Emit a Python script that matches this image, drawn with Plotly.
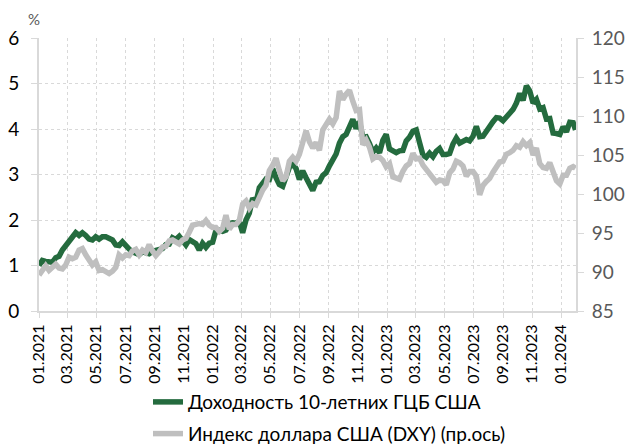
import pandas as pd
import plotly.graph_objects as go

# weekly dates (Fridays) + last observation
dates = list(pd.date_range("2021-01-01", "2024-01-26", freq="7D").strftime("%Y-%m-%d")) + ["2024-01-31"]

yield_2021 = [1.00, 1.11, 1.09, 1.09, 1.07,
              1.17, 1.20, 1.34, 1.44,
              1.57, 1.63, 1.72, 1.66,
              1.72, 1.66, 1.58, 1.56, 1.63,
              1.58, 1.63, 1.63, 1.59,
              1.56, 1.45, 1.44, 1.52,
              1.43, 1.36, 1.30, 1.28, 1.24,
              1.30, 1.28, 1.26, 1.31,
              1.33, 1.34, 1.37, 1.46,
              1.47, 1.61, 1.57, 1.64, 1.56,
              1.45, 1.57, 1.54, 1.48,
              1.34, 1.49, 1.40, 1.49, 1.51]
yield_2022 = [1.77, 1.78, 1.75, 1.78,
              1.92, 1.94, 1.93, 1.97,
              1.72, 2.00, 2.15, 2.48,
              2.38, 2.71, 2.83, 2.90, 2.89,
              3.13, 2.93, 2.78, 2.74,
              2.94, 3.16, 3.23, 3.13,
              2.89, 3.08, 2.93, 2.77, 2.65,
              2.83, 2.84, 2.98, 3.04,
              3.19, 3.32, 3.45, 3.69, 3.83,
              3.88, 4.02, 4.21, 4.01,
              4.16, 3.82, 3.83, 3.68,
              3.49, 3.58, 3.48, 3.75, 3.88]
yield_2023 = [3.56, 3.51, 3.48, 3.52,
              3.53, 3.74, 3.82, 3.95,
              3.98, 3.70, 3.43, 3.38, 3.47,
              3.39, 3.51, 3.57, 3.44,
              3.44, 3.46, 3.67, 3.80,
              3.69, 3.74, 3.77, 3.74, 3.84,
              4.06, 3.83, 3.84, 3.96,
              4.05, 4.16, 4.25, 4.24,
              4.18, 4.26, 4.33, 4.43, 4.57,
              4.78, 4.63, 4.95, 4.84,
              4.57, 4.65, 4.44, 4.47,
              4.22, 4.23, 3.91, 3.90, 3.88]
yield_2024 = [4.05, 3.94, 4.15, 4.14, 3.98]
us10y = yield_2021 + yield_2022 + yield_2023 + yield_2024

dxy_2021 = [89.6, 90.1, 90.8, 90.2, 90.6,
            91.0, 90.5, 90.4, 90.9,
            91.9, 91.7, 91.9, 92.8,
            93.0, 92.2, 91.6, 90.9, 91.3,
            90.2, 90.3, 90.0, 89.8,
            90.1, 90.6, 92.2, 91.8,
            92.2, 92.1, 92.7, 92.9, 92.2,
            92.8, 92.5, 93.5, 92.7,
            92.1, 92.6, 93.2, 93.3,
            94.0, 94.1, 93.9, 93.6, 94.1,
            94.3, 95.1, 96.0, 96.1,
            96.2, 96.1, 96.6, 96.0, 95.7]
dxy_2022 = [95.7, 95.2, 95.6, 97.3,
            95.5, 96.1, 96.1, 96.6,
            98.7, 99.1, 98.2, 98.8,
            98.6, 99.8, 100.5, 101.1, 103.0,
            103.7, 104.6, 103.0, 101.7,
            102.2, 104.2, 104.7, 104.2,
            105.1, 107.0, 108.1, 106.7, 105.9,
            106.6, 105.6, 108.2, 108.8,
            109.6, 109.0, 109.8, 113.2, 112.1,
            112.8, 113.3, 111.9, 110.7,
            110.8, 106.3, 106.9, 106.0,
            104.5, 104.8, 104.7, 104.3, 103.5]
dxy_2023 = [103.9, 102.2, 102.0, 101.9,
            102.9, 103.6, 103.9, 105.2,
            104.5, 104.6, 103.7, 103.1, 102.5,
            102.1, 101.5, 101.8, 101.7,
            101.2, 102.7, 103.2, 104.2,
            104.0, 103.6, 102.3, 102.9, 102.9,
            102.3, 99.9, 101.1, 101.6,
            102.0, 102.8, 103.4, 104.1,
            104.2, 105.1, 105.3, 105.6, 106.2,
            106.0, 106.7, 106.2, 106.6,
            105.0, 105.9, 103.9, 103.4,
            103.3, 104.0, 102.6, 101.7, 101.3]
dxy_2024 = [102.4, 102.4, 103.3, 103.5, 103.3]
dxy = dxy_2021 + dxy_2022 + dxy_2023 + dxy_2024

name_yield = "Доходность 10-летних ГЦБ США"
name_dxy = "Индекс доллара США (DXY) (пр.ось)"

FONT = "Lato, 'Noto Sans', sans-serif"
AXC = "#D9D9D9"

fig = go.Figure()
fig.add_trace(go.Scatter(x=dates, y=us10y, name=name_yield, mode="lines", legendgroup="a",
                         line=dict(color="#246B3E", width=5.5)))
fig.add_trace(go.Scatter(x=dates, y=dxy, name=name_dxy, mode="lines", yaxis="y2", legendgroup="b",
                         line=dict(color="#BFBFBF", width=5.5)))

fig.update_layout(
    width=632, height=448,
    margin=dict(l=39, r=56, t=38, b=137, autoexpand=False),
    paper_bgcolor="white", plot_bgcolor="white",
    font=dict(family=FONT, size=16, color="#000000"),
    showlegend=True,
    legend=dict(orientation="v", x=0.54, xanchor="center", xref="paper",
                y=0.145, yanchor="top", yref="container",
                traceorder="grouped", tracegroupgap=4,
                font=dict(size=19, color="#000000"),
                bgcolor="rgba(0,0,0,0)"),
    xaxis=dict(type="date", range=["2021-01-01", "2024-02-01"], automargin=False,
               tick0="2021-01-01", dtick="M2", tickformat="%m.%Y", tickangle=-90,
               showgrid=True, gridcolor=AXC, griddash="dot", gridwidth=1,
               showline=True, linecolor=AXC, linewidth=2,
               ticks="outside", ticklen=5, tickcolor=AXC, tickwidth=1,
               tickfont=dict(size=16, color="#000000")),
    yaxis=dict(range=[0, 6], dtick=1, showgrid=True, gridcolor=AXC, griddash="dot",
               automargin=False, zeroline=False, showline=True, linecolor=AXC, linewidth=2,
               ticks="outside", ticklen=6, tickcolor=AXC, ticklabelstandoff=8,
               tickfont=dict(size=19, color="#000000")),
    yaxis2=dict(range=[85, 120], dtick=5, overlaying="y", side="right", automargin=False,
                showgrid=False, zeroline=False, showline=True, linecolor=AXC, linewidth=2,
                ticks="outside", ticklen=6, tickcolor=AXC, ticklabelstandoff=4,
                tickfont=dict(size=19, color="#595959")),
    annotations=[dict(text="%", xref="paper", yref="paper", x=-0.0093, y=1.07,
                      xanchor="center", yanchor="middle", showarrow=False,
                      font=dict(size=15, color="#595959"))],
)

fig.write_html("out.html", config={"displayModeBar": False},
               post_script="document.body.style.margin='0';document.body.style.overflow='hidden';")
